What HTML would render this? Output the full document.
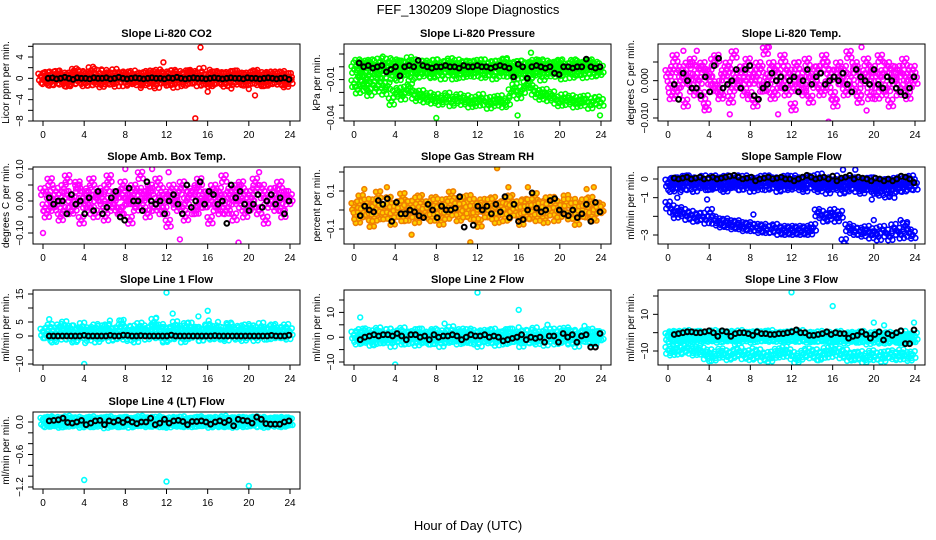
<!DOCTYPE html>
<html><head><meta charset="utf-8"><title>FEF_130209 Slope Diagnostics</title>
<style>
html,body{margin:0;padding:0;background:#fff;}
svg{display:block;font-family:"Liberation Sans",Arial,sans-serif;}
</style></head>
<body>
<svg id="chart" width="936" height="540" viewBox="0 0 936 540">
<text x="468" y="14" text-anchor="middle" font-size="13">FEF_130209  Slope Diagnostics</text>
<text x="468" y="530" text-anchor="middle" font-size="13">Hour of Day (UTC)</text>
</svg>
<script>
// ---------- data (values in each panel's own units) ----------
const xTicks = [0,4,8,12,16,20,24];
// P1 CO2
const co2Cloud = [0.3,-0.4,0.6,-0.7,0.2,0.8,-0.5,0.1,-0.9,0.5,1.2,-0.3,0.7,-0.8,0.4,1.5,-0.6,0.2,-1.0,0.9,0.3,-0.5,1.1,-0.2,0.6,-0.8,0.4,-0.3,0.2,-0.6,0.5,-0.4,0.8,-0.9,0.3,1.0,-0.2,0.6,-0.7,0.4,-1.1,0.7,0.2,-0.5,0.9,-0.3,0.5,-0.8,1.3,-0.4,0.2,-0.6,0.7,-0.3,0.4,-0.9,0.6,-0.2,0.8,-0.5,0.3,-0.7,0.5,-0.4,0.9,-0.6,0.2,-0.8,0.6,-0.3,0.4,-0.5,0.7,-1.0,0.3];
const co2Cloud2 = [-0.2,0.5,-0.6,0.1,0.7,-0.3,0.4,-0.8,0.2,-0.5,0.9,0.1,-0.4,0.6,-0.7,0.3,-0.2,1.0,-0.6,0.2,-0.3,0.5,-0.9,0.4,-0.1,0.6,-0.5,0.8,-0.2,0.3,-0.7,0.5,-0.4,0.2,-1.2,0.6,-0.3,0.4,-0.6,0.9,-0.2,0.3,-0.8,0.5,-0.4,0.7,-0.1,0.4,-0.6,0.2,-0.9,0.6,-0.3,0.5,-0.5,0.3,-0.7,0.8,-0.2,0.4,-0.6,0.1,-0.4,0.7,-0.3,0.5,-0.8,0.2,-0.5,0.6,-0.2,0.4,-0.6,0.3,-0.4];
const co2OutX = [5.0,15.3,11.7,14.8,16.0,20.6,9.5,18.3,20.0,16.2,10.7,12.5,14.1,6.2,21.7,23.5];
const co2OutY = [1.8,5.8,3.0,-7.5,-2.5,-3.2,-1.8,-1.9,-2.0,1.6,1.4,1.5,1.5,1.1,0.9,-1.3];
const co2Black = [0,0.1,-0.1,0,0.2,0,-0.2,0.1,0,0,-0.1,0.1,0,0,0.1,-0.1,0,0.2,0,-0.1,0,0.1,0,-0.1,0,0.1,0,0,-0.1,0.1,0,0.2,0,-0.1,0,0.1,0,0,-0.1,0,0.1,0,-0.1,0,0.1,0,0,-0.1,0.1,0,0,-0.1,0,0.1,0,-0.1,0,0.1,-0.2];
// P2 Pressure
const presUp = [-0.002,0.003,-0.004,0.001,-0.007,0.002,-0.003,0.004,-0.006,0.0,-0.002,0.003,-0.008,0.001,-0.004,0.005,-0.002,-0.006,0.002,-0.003,0.001,-0.005,0.003,-0.001,-0.007,0.002,-0.004,0.0,0.003,-0.006,0.001,-0.003,0.002,-0.005,-0.001,0.003,-0.004,0.001,-0.007,0.002,-0.002,0.004,-0.005,0.0,-0.003,0.002,-0.006,0.001,-0.004,0.003,-0.002,-0.008,0.002,-0.003,0.001,-0.005,0.003,-0.002,0.0,-0.006,0.002,-0.004,0.001,-0.003,0.003,-0.005,0.0,-0.002];
const presUp2 = [0.001,-0.005,0.002,-0.009,0.003,-0.002,-0.006,0.001,-0.003,0.004,-0.007,0.0,0.002,-0.004,0.001,-0.008,0.003,-0.002,-0.005,0.002,-0.001,-0.006,0.003,-0.004,0.001,-0.002,0.004,-0.007,0.0,-0.003,0.002,-0.005,0.001,-0.002,0.003,-0.006,0.0,-0.004,0.002,-0.001,-0.005,0.003,-0.002,0.001,-0.007,0.002,-0.003,0.0,-0.006,0.001,-0.004,0.003,-0.002,-0.005,0.001,-0.003,0.002,-0.007,0.0,-0.002,0.003,-0.004,0.001,-0.006,0.002,-0.003,0.001,-0.004];
const presLow = [-0.013,-0.018,-0.011,-0.016,-0.02,-0.014,-0.017,-0.012,-0.019,-0.015,-0.027,-0.021,-0.019,-0.023,-0.018,-0.016,-0.022,-0.024,-0.021,-0.025,-0.023,-0.026,-0.024,-0.027,-0.025,-0.023,-0.028,-0.026,-0.024,-0.027,-0.025,-0.029,-0.026,-0.028,-0.024,-0.027,-0.03,-0.026,-0.028,-0.025,-0.029,-0.027,-0.02,-0.016,-0.022,-0.018,-0.014,-0.012,-0.019,-0.021,-0.023,-0.02,-0.024,-0.022,-0.026,-0.028,-0.024,-0.027,-0.025,-0.029,-0.026,-0.028,-0.025,-0.03,-0.027,-0.026,-0.028];
const presOutX = [2.8,17.2,4.4,18.0,8.0,15.9,23.9];
const presOutY = [0.008,0.011,0.005,0.005,-0.040,-0.038,-0.038];
const presBlack = [0.003,0.0,0.001,-0.001,0.0,0.001,-0.004,-0.002,0.0,-0.007,0.0,0.001,0.0,0.005,0.001,0.0,-0.001,0.0,0.0,0.001,0.0,0.0,-0.001,0.001,0.0,0.0,0.001,0.0,0.0,-0.001,0.0,0.001,0.0,-0.001,-0.008,0.002,0.0,-0.009,0.0,0.001,0.0,-0.001,0.0,-0.005,-0.006,0.0,0.0,-0.001,0.0,0.0,0.006,0.0,-0.001,0.0];
// P3 Li-820 Temp
const tempCloud = [0.002,-0.004,0.006,-0.001,0.003,-0.006,0.001,0.005,-0.003,0.0,0.004,-0.007,0.002,-0.002,0.006,-0.004,0.001,0.003,-0.005,0.007,-0.001,0.002,-0.003,0.005,0.0,-0.006,0.004,-0.002,0.008,0.001,-0.004,0.003,-0.001,0.006,-0.003,0.002,-0.007,0.004,0.0,-0.002,0.005,-0.005,0.001,0.003,-0.003,0.006,-0.001,0.002,-0.006,0.004,0.0,-0.003,0.007,-0.002,0.003,-0.005,0.001,0.005,-0.004,0.002,-0.001,0.006,-0.003,0.004,-0.006,0.001,0.003,-0.002,0.005,-0.004,0.002,0.0];
const tempCloud2 = [-0.001,0.003,-0.003,0.002,0.0,0.004,-0.002,0.001,0.003,-0.004,0.002,0.0,0.005,-0.001,-0.003,0.002,0.004,-0.002,0.001,-0.001,0.003,0.0,-0.004,0.002,0.001,0.003,-0.002,0.0,0.004,-0.003,0.002,-0.001,0.003,0.0,-0.002,0.004,0.001,-0.003,0.002,0.0,-0.001,0.003,-0.002,0.004,0.001,-0.004,0.002,0.0,0.003,-0.002,0.001,0.004,-0.003,0.0,0.002,-0.001,0.003,-0.004,0.001,0.002,-0.002,0.003,0.0,-0.003,0.002,0.001,-0.001,0.003];
const tempOutX = [1.5,2.8,6.0,9.8,10.7,15.6,18.8,19.3,3.6];
const tempOutY = [0.008,0.008,-0.009,0.009,-0.009,-0.011,0.009,-0.008,-0.007];
const tempBlack = [-0.001,-0.005,0.002,0.0,-0.002,-0.002,-0.004,0.001,-0.003,0.004,0.006,-0.002,-0.001,0.0,0.003,-0.002,0.003,0.004,-0.004,-0.005,-0.002,-0.001,0.002,0.0,0.001,-0.002,0.0,0.001,-0.003,0.0,0.003,-0.001,0.001,0.002,-0.001,0.0,0.001,0.0,0.002,-0.001,-0.003,0.003,0.001,0.0,-0.001,0.003,-0.001,-0.002,0.001,0.0,-0.002,-0.003,-0.004,-0.002,0.001];
// P4 Amb Box Temp
const ambCloud = [0.03,-0.04,0.06,-0.02,0.01,-0.05,0.04,0.07,-0.03,0.0,0.05,-0.06,0.02,-0.01,0.06,-0.04,0.03,0.01,-0.05,0.07,-0.02,0.02,-0.03,0.05,0.0,-0.06,0.04,-0.01,0.08,0.02,-0.04,0.03,-0.02,0.06,-0.03,0.01,-0.07,0.04,0.0,-0.02,0.05,-0.05,0.02,0.03,-0.03,0.06,-0.01,0.02,-0.06,0.04,0.0,-0.03,0.07,-0.02,0.03,-0.05,0.01,0.05,-0.04,0.02,-0.01,0.06,-0.03,0.04,-0.06,0.01,0.03,-0.02,0.05,-0.04,0.02,0.01];
const ambCloud2 = [-0.02,0.02,-0.01,0.03,0.0,-0.03,0.02,0.01,-0.02,0.04,0.0,-0.01,0.03,-0.03,0.01,0.02,-0.02,0.04,0.0,-0.01,0.02,-0.03,0.03,0.0,0.01,-0.02,0.03,-0.01,0.02,0.04,-0.02,0.0,0.03,-0.03,0.02,0.01,-0.01,0.03,-0.02,0.0,0.02,-0.03,0.04,0.01,-0.01,0.02,0.0,-0.02,0.03,0.01,-0.03,0.02,0.0,0.04,-0.01,0.02,-0.02,0.01,0.03,-0.03,0.02,0.0,-0.01,0.03,0.01,-0.02,0.02,0.0];
const ambOutX = [0.0,10.6,12.2,13.3,19.0,8.0,21.0];
const ambOutY = [-0.10,0.10,0.09,-0.12,-0.13,0.10,0.09];
const ambBlack = [0.01,-0.01,0.0,0.0,-0.04,0.02,-0.01,0.0,-0.04,0.01,-0.03,0.03,-0.04,-0.02,0.01,0.03,-0.05,-0.06,0.04,0.0,0.0,-0.03,0.06,0.0,-0.01,0.0,-0.04,0.0,0.02,-0.01,-0.04,0.05,-0.02,0.0,0.06,-0.01,0.03,0.02,-0.01,0.0,-0.07,0.05,0.01,0.03,-0.01,-0.03,-0.01,0.02,-0.02,0.0,0.02,-0.01,0.01,-0.04,0.0];
// P5 Gas Stream RH
const rhCloud = [0.02,-0.05,0.06,-0.02,0.01,-0.07,0.04,0.08,-0.03,0.0,0.05,-0.06,0.02,-0.01,0.07,-0.04,0.03,0.01,-0.05,0.06,-0.02,0.02,-0.03,0.05,0.0,-0.06,0.04,-0.01,0.08,0.02,-0.04,0.03,-0.02,0.06,-0.03,0.01,-0.07,0.04,0.0,-0.02,0.05,-0.05,0.02,0.03,-0.03,0.06,-0.01,0.02,-0.06,0.04,0.0,-0.03,0.07,-0.02,0.03,-0.05,0.01,0.05,-0.04,0.02,-0.01,0.06,-0.03,0.04,-0.06,0.01,0.03,-0.02,0.05,-0.04,0.02,0.01];
const rhCloud2 = [-0.03,0.03,-0.01,0.04,0.0,-0.04,0.02,0.01,-0.03,0.05,0.0,-0.02,0.03,-0.04,0.01,0.03,-0.02,0.05,0.0,-0.01,0.03,-0.04,0.04,0.0,0.01,-0.03,0.03,-0.01,0.02,0.05,-0.02,0.0,0.04,-0.03,0.02,0.01,-0.02,0.04,-0.03,0.0,0.02,-0.04,0.05,0.01,-0.01,0.03,0.0,-0.03,0.04,0.01,-0.04,0.02,0.0,0.05,-0.01,0.03,-0.02,0.01,0.04,-0.03,0.02,0.0,-0.02,0.04,0.01,-0.03,0.02,0.0];
const rhOutX = [13.9,11.3,5.6,3.2,16.9,15.0,22.6,23.3,1.0];
const rhOutY = [0.22,-0.17,-0.13,0.12,0.12,0.12,0.11,0.12,0.11];
const rhBlack = [-0.03,0.02,0.0,-0.01,0.05,0.03,0.06,-0.06,0.04,-0.02,-0.02,0.0,-0.01,-0.03,-0.04,0.03,0.0,-0.04,0.02,0.0,0.0,0.01,0.07,-0.09,-0.2,-0.08,0.02,0.0,0.02,-0.02,0.03,-0.01,0.07,-0.04,0.03,-0.06,-0.05,0.0,0.09,0.01,-0.01,0.0,0.05,0.06,0.0,-0.02,-0.03,0.0,-0.04,-0.02,0.03,-0.06,0.04,-0.01];
// P6 Sample Flow
const sfUp = [-0.2,-0.5,-0.1,-0.3,-0.4,0.0,-0.2,-0.5,-0.1,-0.3,-0.2,-0.4,0.0,-0.3,-0.1,-0.5,-0.2,-0.3,0.0,-0.4,-0.2,-0.1,-0.5,-0.3,-0.2,0.0,-0.4,-0.1,-0.3,-0.5,-0.2,-0.1,-0.4,0.0,-0.3,-0.2,-0.5,-0.1,-0.3,-0.4,0.1,-0.2,-0.6,-0.3,0.0,-0.4,-0.2,-0.5,-0.1,-0.3,-0.2,-0.6,-0.4,-0.1,-0.5,-0.3,-0.7,-0.2,-0.4,-0.6,-0.1,-0.3,-0.5,-0.2,0.0,-0.4];
const sfUp2 = [-0.4,-0.1,-0.3,-0.2,0.0,-0.4,-0.1,-0.3,-0.2,0.0,-0.4,-0.2,-0.3,-0.1,-0.4,0.0,-0.3,-0.2,-0.1,-0.4,0.0,-0.3,-0.2,-0.1,-0.4,-0.2,0.0,-0.3,-0.1,-0.2,-0.4,0.0,-0.3,-0.2,-0.1,-0.4,-0.1,-0.3,0.0,-0.2,-0.5,-0.3,-0.1,-0.4,-0.2,-0.3,-0.6,-0.2,-0.4,-0.1,-0.5,-0.3,-0.2,-0.4,-0.1,-0.6,-0.3,-0.2,-0.8,-0.4,-0.2,-0.5,-0.3,-0.1,-0.4,-0.2];
const sfLow = [-1.4,-1.6,-1.9,-1.7,-1.8,-2.0,-1.9,-2.1,-2.0,-2.0,-2.2,-1.8,-2.2,-2.3,-2.4,-2.3,-2.4,-2.5,-2.4,-2.5,-2.6,-2.5,-2.6,-2.6,-2.7,-2.6,-2.7,-2.7,-2.6,-2.8,-2.7,-2.8,-2.7,-2.8,-2.7,-2.8,-2.7,-2.8,-2.6,-1.8,-1.9,-2.1,-2.0,-1.8,-2.1,-1.9,-3.4,-2.6,-2.7,-2.8,-2.8,-2.9,-2.7,-3.0,-2.8,-3.1,-2.7,-2.9,-3.1,-2.6,-2.8,-3.0,-2.5,-2.9,-3.0];
const sfOutX = [0.9,1.2,3.8,17.0,18.2,19.8,20.3,21.0,21.5,22.0,8.3,22.6,23.2,0.5,20.0];
const sfOutY = [-1.0,-0.7,-1.1,0.5,0.5,-1.1,-0.8,-0.6,-0.9,-1.0,-1.9,-2.2,-2.4,-1.9,-2.2];
const sfBlack = [0.05,0.0,0.05,0.1,0.0,0.05,0.1,0.0,0.05,0.1,0.0,0.05,0.1,0.15,0.2,0.1,0.0,0.05,0.1,-0.1,0.0,0.05,0.1,0.0,0.05,0.1,0.0,0.0,-0.1,0.0,0.1,0.2,0.1,0.0,0.05,0.1,0.0,0.15,-0.1,0.05,0.1,0.2,0.0,0.1,0.05,0.0,-0.1,0.05,0.0,-0.1,0.0,-0.1,0.0,0.15,0.1,0.0,-0.2];
// P7 Line 1 Flow
const l1Cloud = [1.5,0.5,3.0,-1.0,2.0,1.0,4.0,0.0,2.5,-0.5,1.5,3.5,0.5,2.0,1.0,-1.0,2.5,0.5,3.0,1.5,0.0,2.0,4.5,1.0,-0.5,2.5,0.5,3.5,1.5,0.0,2.0,5.0,1.0,3.0,-1.0,2.0,0.5,4.0,1.5,2.5,0.0,3.5,1.0,2.0,-0.5,1.5,3.0,0.5,2.5,1.0,0.0,2.0,3.5,1.5,0.5,2.5,-0.5,3.0,1.0,2.0,0.5,3.5,1.5,0.0,2.5,1.0,2.0,0.5,3.0,1.5];
const l1Cloud2 = [0.5,2.0,-0.5,1.0,3.0,0.0,1.5,2.5,-1.0,1.0,2.0,0.5,-0.5,1.5,3.0,0.0,1.0,2.5,-0.5,1.5,0.5,3.0,0.0,2.0,1.0,-1.0,1.5,2.5,0.0,1.0,3.0,0.5,2.0,-0.5,1.5,0.0,2.5,1.0,-1.0,3.5,0.5,2.0,1.5,-0.5,1.0,2.5,0.0,1.5,2.0,0.5,-0.5,3.0,1.0,0.0,2.0,1.5,0.5,2.5,-0.5,1.0,2.0,0.0,1.5,3.0,0.5,1.0,2.0,0.0];
const l1OutX = [12.0,4.0,0.6,16.0,15.1,12.6,11.0,6.5,7.6,16.1,17.0,4.1];
const l1OutY = [15.5,-10.0,6.0,9.0,7.0,8.0,6.5,5.5,5.5,5.5,5.0,-2.5];
const l1Black = [0,0,0,0,0,0,0,0,0.2,0,0,0,0,0,0.2,0,0,0.3,0.2,0,0,0.1,0,0,0,0,0,0,0.3,0,0,0,0,0,0,0,0,0,0.1,0,0,0,0,0,0,0,0,0,0,0,0,0.2,0,0,0,0.3];
// P8 Line 2 Flow
const l2Cloud = [1.0,-1.5,2.0,-0.5,0.5,-2.0,1.5,2.5,-1.0,0.0,2.0,-2.5,1.0,-0.5,2.5,-1.5,1.0,0.5,-2.0,2.0,-1.0,0.5,-1.5,2.0,0.0,-2.5,1.5,-0.5,3.0,0.5,-1.5,1.0,-0.5,2.0,-1.0,0.5,-2.5,1.5,0.0,-1.0,2.0,-2.0,0.5,1.0,-1.0,2.0,-0.5,0.5,-2.5,1.5,0.0,-1.0,2.5,-0.5,1.0,-2.0,0.5,2.0,-1.5,1.0,-0.5,2.5,-1.0,1.5,-2.5,0.5,1.0,-0.5,2.0,-1.5,1.0,0.5];
const l2Cloud2 = [-0.5,1.0,-1.0,1.5,0.0,-1.5,1.0,0.5,-1.0,2.0,0.0,-0.5,1.5,-1.5,0.5,1.0,-1.0,2.0,0.0,-0.5,1.0,-1.5,1.5,0.0,0.5,-1.0,1.5,-0.5,1.0,2.0,-1.0,0.0,1.5,-1.5,1.0,0.5,-0.5,1.5,-1.0,0.0,1.0,-1.5,2.0,0.5,-0.5,1.0,0.0,-1.0,1.5,0.5,-1.5,1.0,0.0,2.0,-0.5,1.0,-1.0,0.5,1.5,-1.5,1.0,0.0,-0.5,1.5,0.5,-1.0,1.0,0.0];
const l2OutX = [0.6,8.8,12.0,16.0,16.0,4.0,18.8,22.4,20.0,1.1];
const l2OutY = [8.0,5.5,18.0,11.0,4.0,-11.0,5.0,4.5,3.5,3.5];
const l2Black = [-1.0,0.0,0.5,1.0,0.5,1.0,1.0,0.5,1.5,0.5,-1.0,1.0,1.0,0.0,0.5,-1.0,1.0,0.0,0.5,0.5,1.0,0.5,-1.0,0.0,1.0,0.5,0.5,1.0,0.0,0.5,0.0,-1.5,-1.0,-0.5,0.0,1.0,-1.0,0.0,-0.5,0.0,-2.0,0.5,0.5,-2.0,1.5,0.0,1.0,-2.0,0.5,1.0,-4.0,-4.0,1.5];
// P9 Line 3 Flow
const l3Up = [-2.0,-1.0,-3.0,-1.5,-2.5,-0.5,-2.0,-3.5,-1.0,-2.5,-1.5,-3.0,-0.5,-2.0,-1.0,-3.0,-2.0,-1.5,-2.5,-0.5,-3.0,-1.5,-2.0,-1.0,-3.0,-2.5,-1.5,-0.5,-2.0,-3.0,-1.5,-2.5,-1.0,-2.0,-3.0,-0.5,-2.5,-1.5,-2.0,-3.0,-1.0,-2.5,-1.5,-3.5,-2.0,-1.0,-3.0,-2.5,-1.5,-2.0,-3.5,-1.0,-2.5,-3.0,-1.5,-2.0,-4.0,-2.5,-1.5,-3.0,-2.0,-3.5,-1.0,-2.5,-3.0,-2.0];
const l3Up2 = [-3.0,-2.0,-1.0,-2.5,-1.5,-3.0,-2.5,-1.0,-2.0,-3.0,-1.5,-2.0,-2.5,-3.5,-1.5,-2.0,-1.0,-2.5,-3.0,-2.0,-1.5,-2.5,-3.5,-2.0,-1.5,-1.0,-2.5,-3.0,-2.0,-1.5,-2.5,-3.5,-2.0,-2.5,-1.5,-3.0,-2.0,-3.5,-2.5,-1.5,-3.0,-2.0,-3.0,-2.5,-3.5,-2.0,-3.0,-4.0,-2.5,-3.0,-2.0,-3.5,-3.0,-4.5,-2.5,-3.5,-3.0,-2.0,-4.0,-3.0,-2.5,-3.5,-4.0,-3.0,-2.5,-3.5];
const l3Low = [-9.5,-10.5,-8.5,-10.0,-9.0,-8.0,-9.5,-10.5,-9.0,-10.0,-12.5,-11.0,-13.5,-12.0,-10.5,-11.5,-13.0,-12.0,-11.0,-10.0,-12.5,-11.5,-13.0,-12.0,-11.0,-13.5,-12.5,-14.0,-12.0,-10.5,-11.5,-9.5,-11.0,-12.5,-14.5,-13.0,-11.5,-10.5,-12.0,-11.0,-13.0,-12.0,-10.0,-11.5,-9.0,-10.5,-12.0,-11.0,-13.5,-12.5,-13.0,-12.0,-14.5,-13.0,-11.5,-13.0,-12.5,-14.0,-12.0,-11.5,-12.5,-13.0,-11.0,-12.5,-13.5,-12.0];
const l3OutX = [12.0,16.0,20.0,23.9,21.0,6.5,8.2,4.0,14.6];
const l3OutY = [22.0,14.5,5.5,5.5,4.0,-6.5,-8.5,-15.5,-15.0];
const l3Black = [-1.0,-0.5,0.0,0.5,0.5,0.0,0.0,0.5,1.0,0.0,-2.0,1.0,0.5,-2.0,-0.5,0.0,0.0,-0.5,-1.5,0.5,-0.5,-0.5,-1.0,-1.0,-0.5,-0.5,0.0,0.5,1.5,0.0,0.0,-1.5,-1.5,-1.0,-0.5,0.5,-1.0,0.0,-0.5,-0.5,-3.0,-2.0,-1.5,0.5,-1.0,-3.0,-1.0,0.5,-4.0,-0.5,-1.5,0.0,1.0,-6.0,-6.0,1.5];
// P10 Line 4 Flow
const l4Cloud = [0.02,-0.03,0.04,-0.01,0.0,-0.04,0.03,0.05,-0.02,0.01,0.03,-0.04,0.02,-0.01,0.04,-0.03,0.01,0.02,-0.05,0.04,-0.02,0.0,-0.03,0.03,0.01,-0.04,0.02,-0.01,0.05,0.02,-0.03,0.01,-0.02,0.04,-0.03,0.0,-0.04,0.03,0.01,-0.02,0.04,-0.03,0.01,0.02,-0.02,0.04,-0.01,0.02,-0.04,0.03,0.0,-0.03,0.05,-0.02,0.02,-0.04,0.01,0.03,-0.03,0.02,-0.01,0.04,-0.02,0.03,-0.04,0.01,0.02,-0.02,0.03,-0.03,0.02,0.0];
const l4Cloud2 = [-0.01,0.02,-0.02,0.03,0.0,-0.03,0.01,0.02,-0.01,0.03,0.0,-0.02,0.02,-0.03,0.01,0.02,-0.01,0.03,0.0,-0.02,0.02,-0.03,0.03,0.0,0.01,-0.02,0.02,-0.01,0.01,0.03,-0.02,0.0,0.02,-0.03,0.01,0.02,-0.01,0.03,-0.02,0.0,0.01,-0.03,0.03,0.01,-0.01,0.02,0.0,-0.02,0.03,0.01,-0.03,0.02,0.0,0.03,-0.01,0.02,-0.02,0.01,0.03,-0.03,0.02,0.0,-0.01,0.02,0.01,-0.02,0.02,0.0];
const l4OutX = [4.0,12.0,20.0,5.5,21.0];
const l4OutY = [-1.07,-1.1,-1.18,0.07,0.07];
const l4Black = [0.02,0.03,0.04,0.07,-0.01,-0.02,0.0,0.03,-0.05,-0.02,0.02,0.03,-0.05,0.02,0.0,0.03,-0.01,0.04,0.0,-0.03,0.0,0.0,0.07,-0.05,-0.02,0.05,-0.02,0.02,0.03,0.01,-0.05,0.01,0.01,0.02,0.0,-0.04,0.0,0.02,-0.01,0.03,-0.07,0.05,0.03,0.02,-0.02,0.09,0.05,-0.03,-0.04,-0.04,-0.04,0.0,0.02];

// ---------- drawing ----------
const NS = 'http://www.w3.org/2000/svg';
const svg = document.getElementById('chart');
function mk(tag, attrs, parent){ const e=document.createElementNS(NS,tag); for(const k in attrs) e.setAttribute(k,attrs[k]); (parent||svg).appendChild(e); return e; }
function spread(n,a,b){ const r=[]; for(let i=0;i<n;i++) r.push(n===1?a:a+(b-a)*i/(n-1)); return r; }

const colL=[33,344,658], colW=267;
const rowT=[44,167,290,412], rowB=[121,244,365,489];
// marker cluster offsets (pure drawing style for dense clouds, pixels)
const CLUSTER=[[0,0],[2.5,3],[-2.5,-3],[1.8,-3.5],[-1.8,3.5]];

function panel(cfg){
  const L=colL[cfg.c], R=L+colW, T=rowT[cfg.r], B=rowB[cfg.r];
  const g = mk('g',{});
  
  
  const xs = h => L+10 + h/24*(R-L-20);
  const ys = v => cfg.p1 + (v-cfg.v1)*(cfg.p2-cfg.p1)/(cfg.v2-cfg.v1);
  const clip = 'clip'+cfg.c+cfg.r;
  const cp = mk('clipPath',{id:clip},g); mk('rect',{x:L,y:T,width:colW,height:B-T},cp);
  const t = mk('text',{x:(L+R)/2,y:T-7,'text-anchor':'middle','font-size':11,'font-weight':'bold'},g);
  t.textContent = cfg.title;
  
  
  const marks = mk('g',{'clip-path':'url(#'+clip+')'},g);
  cfg.series.forEach(s=>{
    const xsArr = s.x || spread(s.y.length, s.a!==undefined?s.a:0, s.b!==undefined?s.b:24);
    const offs = s.dense ? CLUSTER : [[0,0]];
    const sw = s.col==='#000' ? 2 : 1.6;
    s.y.forEach((v,i)=>{
      const cx = xs(xsArr[i]), cy = ys(v);
      offs.forEach(o=>{
        const c = mk('circle',{cx:(cx+o[0]).toFixed(1),cy:(cy+o[1]).toFixed(1),r:2.4,stroke:s.col,fill:s.fill||'none','stroke-width':sw},marks);
        
        
      });
    });
  });
  const box = mk('rect',{x:L,y:T,width:colW,height:B-T,fill:'none',stroke:'#000','stroke-width':1},g);
  
  
  xTicks.forEach(h=>{
    mk('line',{x1:xs(h),x2:xs(h),y1:B,y2:B+5,stroke:'#000'},g);
    const tx = mk('text',{x:xs(h),y:B+17,'text-anchor':'middle','font-size':10},g);
    tx.textContent = h;
    
    
  });
  cfg.yt.forEach(v=>{ mk('line',{x1:L-5,x2:L,y1:ys(v),y2:ys(v),stroke:'#000'},g); });
  cfg.yl.forEach((v,i)=>{
    const y=ys(v), x=L-10;
    const ty = mk('text',{x:x,y:y,'text-anchor':'middle','font-size':10,transform:'rotate(-90 '+x+' '+y+')'},g);
    ty.textContent = cfg.ylt[i];
    
    
  });
  const ax=L-24, ay=(T+B)/2;
  const at = mk('text',{x:ax,y:ay,'text-anchor':'middle','font-size':10,transform:'rotate(-90 '+ax+' '+ay+')'},g);
  at.textContent = cfg.ytitle;
  
  
}

const K='#000';
panel({name:'panel-co2',c:0,r:0,title:'Slope Li-820 CO2',ytitle:'Licor ppm per min.',v1:4,p1:57,v2:-8,p2:121,
  yt:[6,4,2,0,-2,-4,-6,-8],yl:[4,0,-4,-8],ylt:['4','0','\u22124','\u22128'],
  series:[{y:co2Cloud,col:'#f00',a:-0.2,b:23.9,dense:true},{y:co2Cloud2,col:'#f00',a:0,b:24,dense:true},{x:co2OutX,y:co2OutY,col:'#f00'},{y:co2Black,col:K,a:0.5,b:23.9}]});
panel({name:'panel-pressure',c:1,r:0,title:'Slope Li-820 Pressure',ytitle:'kPa per min.',v1:0.01,p1:54,v2:-0.04,p2:118,
  yt:[0.01,0,-0.01,-0.02,-0.03,-0.04],yl:[-0.01,-0.04],ylt:['\u22120.01','\u22120.04'],
  series:[{y:presUp,col:'#0f0',dense:true},{y:presUp2,col:'#0f0',a:0.2,b:23.8,dense:true},{y:presLow,col:'#0f0',dense:true},{x:presOutX,y:presOutY,col:'#0f0'},{y:presBlack,col:K,a:0.5,b:23.9}]});
panel({name:'panel-li820-temp',c:2,r:0,title:'Slope Li-820 Temp.',ytitle:'degrees C per min.',v1:0.005,p1:62,v2:-0.010,p2:118,
  yt:[0.005,0,-0.005,-0.01],yl:[0,-0.01],ylt:['0.000','\u22120.010'],
  series:[{y:tempCloud,col:'#f0f',dense:true},{y:tempCloud2,col:'#f0f',a:0.2,b:23.8,dense:true},{x:tempOutX,y:tempOutY,col:'#f0f'},{y:tempBlack,col:K,a:0.6,b:23.9}]});
panel({name:'panel-amb-box-temp',c:0,r:1,title:'Slope Amb. Box Temp.',ytitle:'degrees C per min.',v1:0.10,p1:169,v2:-0.10,p2:233,
  yt:[0.1,0.05,0,-0.05,-0.1],yl:[0.1,0,-0.1],ylt:['0.10','0.00','\u22120.10'],
  series:[{y:ambCloud,col:'#f0f',dense:true},{y:ambCloud2,col:'#f0f',a:0.2,b:23.8,dense:true},{x:ambOutX,y:ambOutY,col:'#f0f'},{y:ambBlack,col:K,a:0.6,b:23.9}]});
panel({name:'panel-gas-stream-rh',c:1,r:1,title:'Slope Gas Stream RH',ytitle:'percent per min.',v1:0.2,p1:172,v2:-0.1,p2:229,
  yt:[0.2,0.1,0,-0.1],yl:[0.1,-0.1],ylt:['0.1','\u22120.1'],
  series:[{y:rhCloud,col:'#f08000',fill:'#ffd000',dense:true},{y:rhCloud2,col:'#f08000',fill:'#ffd000',a:0.2,b:23.8,dense:true},{x:rhOutX,y:rhOutY,col:'#f08000',fill:'#ffd000'},{y:rhBlack,col:K,a:0.6,b:23.9}]});
panel({name:'panel-sample-flow',c:2,r:1,title:'Slope Sample Flow',ytitle:'ml/min per min.',v1:0,p1:179,v2:-3,p2:235,
  yt:[0,-1,-2,-3],yl:[0,-1,-3],ylt:['0','\u22121','\u22123'],
  series:[{y:sfUp,col:'#00f',dense:true},{y:sfUp2,col:'#00f',a:0.2,b:23.8,dense:true},{y:sfLow,col:'#00f',a:0,b:23.8,dense:true},{x:sfOutX,y:sfOutY,col:'#00f'},{y:sfBlack,col:K,a:0.6,b:23.9}]});
panel({name:'panel-line1-flow',c:0,r:2,title:'Slope Line 1 Flow',ytitle:'ml/min per min.',v1:15,p1:294,v2:-10,p2:364,
  yt:[15,10,5,0,-5,-10],yl:[15,5,0,-10],ylt:['15','5','0','\u221210'],
  series:[{y:l1Cloud,col:'#0ff',dense:true},{y:l1Cloud2,col:'#0ff',a:0.2,b:23.8,dense:true},{x:l1OutX,y:l1OutY,col:'#0ff'},{y:l1Black,col:K,a:0.6,b:23.9}]});
panel({name:'panel-line2-flow',c:1,r:2,title:'Slope Line 2 Flow',ytitle:'ml/min per min.',v1:15,p1:300,v2:-10,p2:362,
  yt:[15,10,5,0,-5,-10],yl:[10,0,-10],ylt:['10','0','\u221210'],
  series:[{y:l2Cloud,col:'#0ff',dense:true},{y:l2Cloud2,col:'#0ff',a:0.2,b:23.8,dense:true},{x:l2OutX,y:l2OutY,col:'#0ff'},{y:l2Black,col:K,a:0.6,b:23.9}]});
panel({name:'panel-line3-flow',c:2,r:2,title:'Slope Line 3 Flow',ytitle:'ml/min per min.',v1:20,p1:296,v2:-10,p2:351,
  yt:[20,10,0,-10],yl:[10,-10],ylt:['10','\u221210'],
  series:[{y:l3Up,col:'#0ff',dense:true},{y:l3Up2,col:'#0ff',a:0.2,b:23.8,dense:true},{y:l3Low,col:'#0ff',a:0,b:23.8,dense:true},{x:l3OutX,y:l3OutY,col:'#0ff'},{y:l3Black,col:K,a:0.6,b:23.9}]});
panel({name:'panel-line4-flow',c:0,r:3,title:'Slope Line 4 (LT) Flow',ytitle:'ml/min per min.',v1:0,p1:422,v2:-1.2,p2:487,
  yt:[0,-0.2,-0.4,-0.6,-0.8,-1.0,-1.2],yl:[0,-0.6,-1.2],ylt:['0.0','\u22120.6','\u22121.2'],
  series:[{y:l4Cloud,col:'#0ff',dense:true},{y:l4Cloud2,col:'#0ff',a:0.2,b:23.8,dense:true},{x:l4OutX,y:l4OutY,col:'#0ff'},{y:l4Black,col:K,a:0.6,b:23.9}]});
</script>
</body></html>
